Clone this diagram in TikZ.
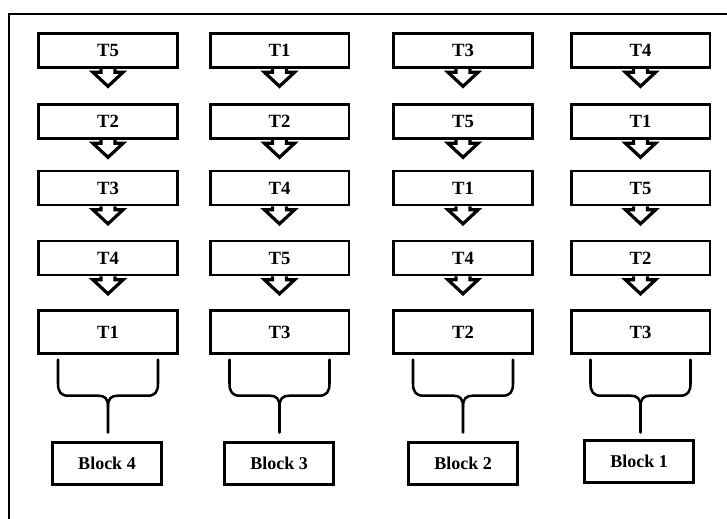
\documentclass[tikz,border=0pt]{standalone}
\usepackage{fontspec}
\setmainfont{Liberation Serif}
\newcommand\tarrow[1]{\draw[barrow] (#1.south) ++(-7,0) -- ++(0,3.5) -- ++(-8,0) -- ++(15,14) -- ++(15,-14) -- ++(-8,0) -- ++(0,-3.5);}
\newcommand\tbrace[1]{%
  \begin{scope}[shift={(#1.south)}]
    \draw[bracel] (-50,5) -- (-50,29) .. controls (-50,37) and (-47,41) .. (-40,41) -- (-10,41) .. controls (-3,41) and (0,44) .. (0,52) -- (0,78);
    \draw[bracel] (50,5) -- (50,29) .. controls (50,37) and (47,41) .. (40,41) -- (10,41) .. controls (3,41) and (0,44) .. (0,52);
  \end{scope}}
\begin{document}
\begin{tikzpicture}[x=0.75pt,y=-0.75pt,
  tbox/.style={draw, line width=2pt, minimum width=104pt, minimum height=25.5pt, inner sep=0pt, font=\fontsize{14}{16}\selectfont\bfseries},
  tlast/.style={tbox, minimum height=32pt},
  bbox/.style={draw, line width=1.8pt, minimum width=82pt, minimum height=31.5pt, inner sep=0pt, font=\fontsize{13.5}{16}\selectfont\bfseries},
  barrow/.style={draw, line width=2.4pt, line join=miter},
  bracel/.style={draw, line width=1.9pt, line cap=round},
  frame/.style={draw, line width=1.5pt}]
\useasboundingbox (0,0) rectangle (727,518);
\clip (0,0) rectangle (727,518);
\draw[frame] (9,540) -- (9,14) -- (750,14);
% column 1
\node[tbox] (a1) at (108,50.5) {T5};
\node[tbox] (a2) at (108,121.5) {T2};
\node[tbox] (a3) at (108,188) {T3};
\node[tbox] (a4) at (108,258) {T4};
\node[tlast] (a5) at (108,332) {T1};
\node[bbox] (ab) at (107,463.5) {Block 4};
% column 2
\node[tbox] (b1) at (279.5,50.5) {T1};
\node[tbox] (b2) at (279.5,121.5) {T2};
\node[tbox] (b3) at (279.5,188) {T4};
\node[tbox] (b4) at (279.5,258) {T5};
\node[tlast] (b5) at (279.5,332) {T3};
\node[bbox] (bb) at (279,463.5) {Block 3};
% column 3
\node[tbox] (c1) at (463,50.5) {T3};
\node[tbox] (c2) at (463,121.5) {T5};
\node[tbox] (c3) at (463,188) {T1};
\node[tbox] (c4) at (463,258) {T4};
\node[tlast] (c5) at (463,332) {T2};
\node[bbox] (cb) at (463,463.5) {Block 2};
% column 4
\node[tbox] (d1) at (640.5,50.5) {T4};
\node[tbox] (d2) at (640.5,121.5) {T1};
\node[tbox] (d3) at (640.5,188) {T5};
\node[tbox] (d4) at (640.5,258) {T2};
\node[tlast] (d5) at (640.5,332) {T3};
\node[bbox] (db) at (639,461.5) {Block 1};
\foreach \c in {a,b,c,d}{
  \foreach \r in {1,2,3,4}{\tarrow{\c\r}}
  \tbrace{\c5}
}
\end{tikzpicture}
\end{document}
